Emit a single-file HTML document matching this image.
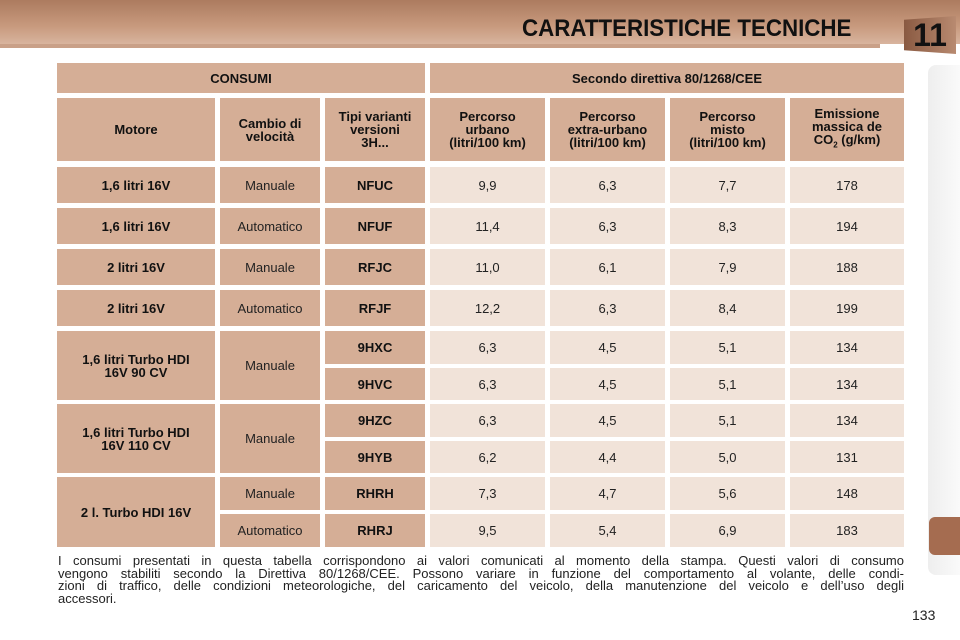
<!DOCTYPE html>
<html><head><meta charset="utf-8"><style>
body{margin:0;width:960px;height:640px;position:relative;background:#fff;font-family:"Liberation Sans",Arial,sans-serif;overflow:hidden}
.c{position:absolute;display:flex;align-items:center;justify-content:center;text-align:center;font-size:13px;color:#222;line-height:13px}
.d{background:#d5ae96;font-weight:bold;color:#111}
.l{background:#f1e3d9}
.m{background:#d5ae96;color:#222}
#banner{position:absolute;left:0;top:0;width:960px;height:44px;background:linear-gradient(#ac7b5f,#c89a7e 60%,#d8b49e)}
#title{position:absolute;left:522px;top:15px;font-size:24px;font-weight:900;color:#111;white-space:nowrap;transform:scaleX(0.93);transform-origin:left}
#foot{position:absolute;left:58px;top:555px;width:846px;font-size:13px;line-height:12.7px;color:#222}
#foot div{text-align:justify;text-align-last:justify;white-space:nowrap}
#foot div.last{text-align-last:left}
</style></head><body>
<div id="banner"></div>
<div style="position:absolute;left:0;top:44px;width:880px;height:4px;background:#c9a088"></div>
<div id="title">CARATTERISTICHE TECNICHE</div>
<div style="position:absolute;left:904px;top:16px;width:52px;height:38px;background:linear-gradient(90deg,#8a5a42,#b88a70);clip-path:polygon(0 10%,100% 0,100% 100%,0 90%);display:flex;align-items:center;justify-content:center;font-size:32px;font-weight:900;color:#111">11</div>
<div style="position:absolute;left:928px;top:65px;width:32px;height:510px;background:linear-gradient(90deg,#eee,#fafafa);border-radius:8px 0 0 8px"></div>
<div style="position:absolute;left:929px;top:517px;width:31px;height:38px;background:#a56c50;border-radius:6px 0 0 6px"></div>
<div id="t"></div>
<div id="foot">
<div>I consumi presentati in questa tabella corrispondono ai valori comunicati al momento della stampa. Questi valori di consumo</div>
<div>vengono stabiliti secondo la Direttiva 80/1268/CEE. Possono variare in funzione del comportamento al volante, delle condi-</div>
<div>zioni di traffico, delle condizioni meteorologiche, del caricamento del veicolo, della manutenzione del veicolo e dell’uso degli</div>
<div class="last">accessori.</div>
</div>
<div style="position:absolute;left:912px;top:607px;font-size:14px;color:#222">133</div>
<script>
const X=[57,220,325,430,550,670,790,909];
const T=document.getElementById('t');
function cell(x1,x2,y1,y2,cls,html){const d=document.createElement('div');d.className='c '+cls;d.style.left=x1+'px';d.style.top=y1+'px';d.style.width=(x2-x1-5)+'px';d.style.height=(y2-y1)+'px';d.innerHTML='<span>'+html+'</span>';T.appendChild(d);return d;}
let e;
e=cell(X[0],X[3],63,93,'d','CONSUMI');


e=cell(X[3],X[7],63,93,'d','Secondo direttiva 80/1268/CEE');


const heads=['Motore','Cambio di<br>velocità','Tipi varianti<br>versioni<br>3H...','Percorso<br>urbano<br>(litri/100 km)','Percorso<br>extra-urbano<br>(litri/100 km)','Percorso<br>misto<br>(litri/100 km)','Emissione<br>massica de<br>CO<sub style="font-size:8px">2</sub> (g/km)'];
heads.forEach((h,i)=>{e=cell(X[i],X[i+1],98,161,'d',h);

});
const rowsY=[[167,203],[208,244],[249,285],[290,326],[331,364],[368,400],[404,437],[441,473],[477,510],[514,547]];
const codes=['NFUC','NFUF','RFJC','RFJF','9HXC','9HVC','9HZC','9HYB','RHRH','RHRJ'];
const urb=['9,9','11,4','11,0','12,2','6,3','6,3','6,3','6,2','7,3','9,5'];
const ext=['6,3','6,3','6,1','6,3','4,5','4,5','4,5','4,4','4,7','5,4'];
const mis=['7,7','8,3','7,9','8,4','5,1','5,1','5,1','5,0','5,6','6,9'];
const co2=['178','194','188','199','134','134','134','131','148','183'];
const motors=[['1,6 litri 16V',0,0],['1,6 litri 16V',1,1],['2 litri 16V',2,2],['2 litri 16V',3,3],['1,6 litri Turbo HDI<br>16V 90 CV',4,5],['1,6 litri Turbo HDI<br>16V 110 CV',6,7],['2 l. Turbo HDI 16V',8,9]];
motors.forEach(m=>{e=cell(X[0],X[1],rowsY[m[1]][0],rowsY[m[2]][1],'d',m[0]);

});
const gears=[['Manuale',0,0],['Automatico',1,1],['Manuale',2,2],['Automatico',3,3],['Manuale',4,5],['Manuale',6,7],['Manuale',8,8],['Automatico',9,9]];
gears.forEach(g=>{e=cell(X[1],X[2],rowsY[g[1]][0],rowsY[g[2]][1],'m',g[0]);

});
rowsY.forEach((r,i)=>{
e=cell(X[2],X[3],r[0],r[1],'d',codes[i]);


[urb,ext,mis,co2].forEach((arr,j)=>{e=cell(X[3+j],X[4+j],r[0],r[1],'l',arr[i]);

});
});
</script>
</body></html>
